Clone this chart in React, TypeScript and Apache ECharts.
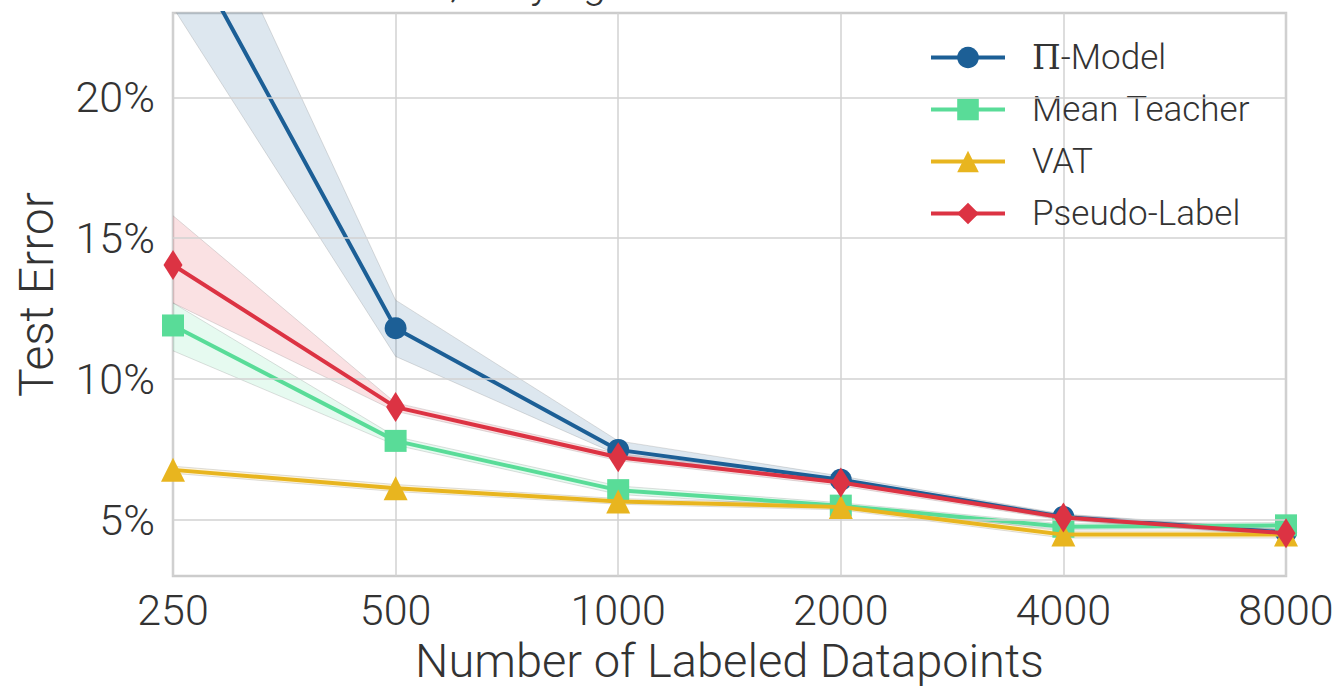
import React, { useEffect, useRef } from "react";
import * as echarts from "echarts";

const categories = ["250", "500", "1000", "2000", "4000", "8000"];

const piModel = [26.3, 11.8, 7.48, 6.42, 5.1, 4.55];
const piLow = [23.2, 10.8, 7.3, 6.32, 5.0, 4.45];
const piHigh = [29.8, 12.8, 7.8, 6.55, 5.2, 4.65];

const meanTeacher = [11.9, 7.8, 6.05, 5.5, 4.75, 4.8];
const mtLow = [11.0, 7.65, 5.9, 5.4, 4.65, 4.7];
const mtHigh = [12.7, 7.95, 6.2, 5.6, 4.85, 4.9];

const vat = [6.77, 6.12, 5.65, 5.45, 4.47, 4.47];
const vatLow = [6.65, 6.0, 5.55, 5.35, 4.35, 4.35];
const vatHigh = [6.9, 6.25, 5.75, 5.55, 4.6, 4.6];

const pseudoLabel = [14.05, 9.0, 7.22, 6.32, 5.08, 4.52];
const plLow = [12.7, 8.85, 7.1, 6.2, 4.98, 4.42];
const plHigh = [15.8, 9.15, 7.35, 6.45, 5.18, 4.62];

const yTicks = [5, 10, 15, 20];

const FONT = "Roboto";
const TEXT = "#333333";
const GRID = "#d2d2d2";

export default function App() {
  const ref = useRef<HTMLDivElement>(null);

  useEffect(() => {
    if (!ref.current) return;
    const chart = echarts.init(ref.current, null, { renderer: "svg" });

    const specs = [
      { name: "Π-Model", key: "pi", data: piModel, lo: piLow, hi: piHigh, color: "#1c5f96", symbol: "circle", size: 22 as any },
      { name: "Mean Teacher", key: "mt", data: meanTeacher, lo: mtLow, hi: mtHigh, color: "#59dc98", symbol: "rect", size: 22 as any },
      { name: "VAT", key: "vat", data: vat, lo: vatLow, hi: vatHigh, color: "#e8b51f", symbol: "triangle", size: 24 as any },
      { name: "Pseudo-Label", key: "pl", data: pseudoLabel, lo: plLow, hi: plHigh, color: "#dc3343", symbol: "diamond", size: [19, 30] as any },
    ];

    const edge = { width: 1, color: "rgba(110,110,110,0.22)" };
    const series: any[] = [];

    // horizontal gridlines at the tick values, drawn through the y scale
    series.push({
      name: "grid_y",
      type: "line",
      data: [],
      silent: true,
      z: 0,
      markLine: {
        silent: true,
        symbol: "none",
        label: { show: false },
        lineStyle: { color: GRID, width: 1.5, type: "solid" },
        data: yTicks.map((v) => ({ yAxis: v })),
        animation: false,
      },
    });

    specs.forEach((s) => {
      series.push({
        name: s.key + "_lo",
        type: "line",
        data: s.lo,
        stack: s.key,
        symbol: "none",
        silent: true,
        lineStyle: edge,
        z: 1,
      });
      series.push({
        name: s.key + "_band",
        type: "line",
        data: s.hi.map((h, i) => h - s.lo[i]),
        stack: s.key,
        symbol: "none",
        silent: true,
        lineStyle: edge,
        areaStyle: { color: s.color, opacity: 0.15 },
        z: 1,
      });
    });
    specs.forEach((s, idx) => {
      series.push({
        name: s.name,
        type: "line",
        data: s.data,
        symbol: s.symbol,
        symbolSize: s.size,
        color: s.color,
        lineStyle: { width: 4, color: s.color },
        itemStyle: { color: s.color },
        z: 3 + idx,
      });
    });

    chart.setOption({
      animation: false,
      textStyle: { fontFamily: FONT },
      grid: {
        left: 173,
        right: 53,
        top: 13,
        bottom: 113,
        show: true,
        borderColor: "#cccccc",
        borderWidth: 2.5,
      },
      legend: {
        data: specs.map((s) => s.name),
        orient: "vertical",
        left: 924,
        top: 35,
        itemWidth: 74,
        itemHeight: 27,
        itemGap: 17,
        lineStyle: { width: 4 },
        formatter: (name: string) => (name === "Π-Model" ? "{pi|Π}-Model" : name),
        textStyle: {
          fontFamily: FONT,
          fontSize: 35,
          fontWeight: 300,
          color: TEXT,
          padding: [0, 0, 0, 22],
          rich: {
            pi: { fontFamily: "DejaVu Serif", fontSize: 33, color: TEXT },
          },
        },
      },
      xAxis: {
        type: "category",
        data: categories,
        boundaryGap: false,
        axisLine: { show: false },
        axisTick: { show: false },
        axisLabel: { fontSize: 43, fontWeight: 300, color: TEXT, margin: 12, fontFamily: FONT },
        splitLine: { show: true, interval: 0, lineStyle: { color: GRID, width: 1.5 } },
        name: "Number of Labeled Datapoints",
        nameLocation: "middle",
        nameGap: 61,
        nameTextStyle: { fontSize: 47, fontWeight: 300, color: TEXT, fontFamily: FONT },
      },
      yAxis: {
        type: "value",
        min: 3,
        max: 23,
        axisLine: { show: false },
        axisTick: { show: false, customValues: yTicks },
        axisLabel: {
          fontSize: 43,
          fontWeight: 300,
          color: TEXT,
          margin: 18,
          fontFamily: FONT,
          customValues: yTicks,
          formatter: (v: number) => v + "%",
        },
        splitLine: { show: false },
        name: "Test Error",
        nameLocation: "middle",
        nameRotate: 90,
        nameGap: 113,
        nameTextStyle: { fontSize: 48, fontWeight: 300, color: TEXT, fontFamily: FONT },
      },
      graphic: [
        {
          type: "text",
          x: 450,
          y: 3,
          style: {
            text: "SVHN",
            font: `300 42px ${FONT}`,
            fill: TEXT,
            align: "right",
            verticalAlign: "bottom",
          },
        },
        {
          type: "text",
          x: 450,
          y: 3,
          style: {
            text: ", Varying Number of Labels",
            font: `300 42px ${FONT}`,
            fill: TEXT,
            align: "left",
            verticalAlign: "bottom",
          },
        },
      ],
      series,
    });

    return () => chart.dispose();
  }, []);

  return (
    <div
      ref={ref}
      style={{ position: "fixed", left: 0, top: 0, width: 1339, height: 689, background: "#ffffff" }}
    />
  );
}
